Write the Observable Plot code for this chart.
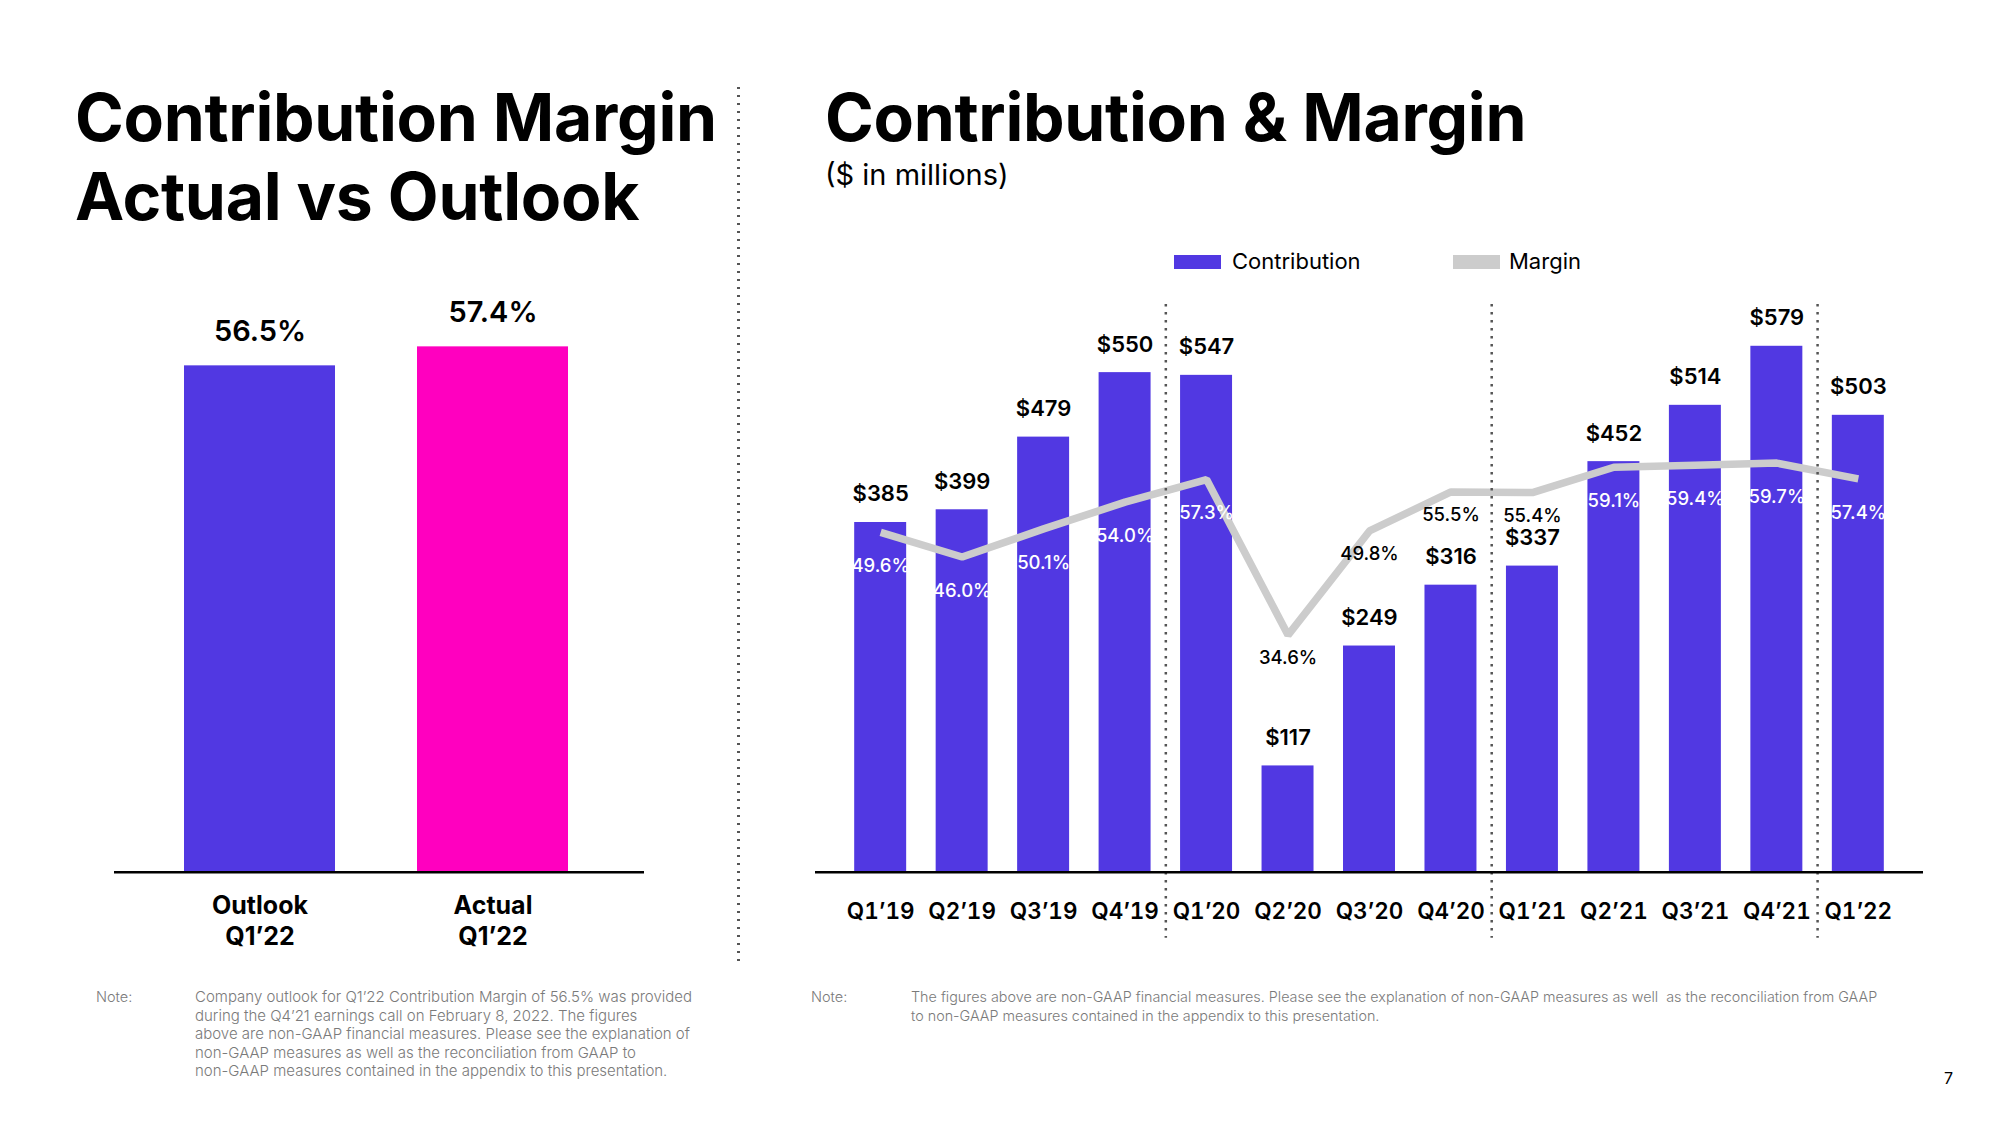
<!DOCTYPE html>
<html>
<head>
<meta charset="utf-8">
<script src="https://cdn.jsdelivr.net/npm/d3@7"></script>
<script src="https://cdn.jsdelivr.net/npm/@observablehq/plot@0.6"></script>
<style>
  html, body { margin: 0; padding: 0; background: #fff; }
  #page { position: relative; width: 2000px; height: 1125px; overflow: hidden; font-family: Inter, "Noto Sans", sans-serif; color: #000; }
  .abs { position: absolute; }
  .title { font-size: 66px; line-height: 79px; font-weight: 700; letter-spacing: -0.3px; white-space: nowrap; }
  .subtitle { font-size: 29px; line-height: 29px; font-weight: 400; white-space: nowrap; }
  .legend { font-size: 22px; line-height: 22px; white-space: nowrap; }
  .swatch { position: absolute; width: 47px; height: 14px; }
  .note { font-size: 14.5px; line-height: 18.6px; color: #7a7a7a; font-weight: 300; white-space: nowrap; }
  .divider { position: absolute; width: 3px; background-image: linear-gradient(to bottom, #555 0 2.5px, transparent 2.5px 8px); background-size: 3px 8px; }
</style>
</head>
<body>
<div id="page">
  <div class="abs title" style="left:75px; top:78px;">Contribution Margin<br>Actual vs Outlook</div>
  <div class="divider" style="left:737px; top:87px; height:876px;"></div>
  <div class="abs title" style="left:825px; top:78px;">Contribution &amp; Margin</div>
  <div class="abs subtitle" style="left:825px; top:160px;">($ in millions)</div>

  <div class="swatch" style="left:1174px; top:255px; background:#5138e2;"></div>
  <div class="abs legend" style="left:1232px; top:250px;">Contribution</div>
  <div class="swatch" style="left:1453px; top:255px; background:#cccccc;"></div>
  <div class="abs legend" style="left:1509px; top:250px;">Margin</div>

  <div id="left" class="abs" style="left:114px; top:290px; width:530px;"></div>
  <div id="right" class="abs" style="left:815px; top:290px; width:1108px;"></div>

  <div class="abs note" style="left:96px; top:988px;">Note:</div>
  <div class="abs note" style="left:195px; top:988px; font-size:15px;">Company outlook for Q1’22 Contribution Margin of 56.5% was provided<br>during the Q4’21 earnings call on February 8, 2022. The figures<br>above are non-GAAP financial measures. Please see the explanation of<br>non-GAAP measures as well as the reconciliation from GAAP to<br>non-GAAP measures contained in the appendix to this presentation.</div>
  <div class="abs note" style="left:811px; top:988px;">Note:</div>
  <div class="abs note" style="left:911px; top:988px; font-size:14.35px;">The figures above are non-GAAP financial measures. Please see the explanation of non-GAAP measures as well&nbsp; as the reconciliation from GAAP<br>to non-GAAP measures contained in the appendix to this presentation.</div>
  <div class="abs" style="left:1944px; top:1070px; font-size:16px; line-height:16px;">7</div>
</div>
<script>
// ---- Data ----
const quarters = ["Q1’19","Q2’19","Q3’19","Q4’19","Q1’20","Q2’20","Q3’20","Q4’20","Q1’21","Q2’21","Q3’21","Q4’21","Q1’22"];
const contribution = [385, 399, 479, 550, 547, 117, 249, 316, 337, 452, 514, 579, 503];
const marginPct = [49.6, 46.0, 50.1, 54.0, 57.3, 34.6, 49.8, 55.5, 55.4, 59.1, 59.4, 59.7, 57.4];

const outlookCategories = ["Outlook\nQ1’22", "Actual\nQ1’22"];
const outlookValues = [56.5, 57.4];

// ---- Styles / layout ----
const PURPLE = "#5138e2";
const PINK = "#ff00bf";
const GREY = "#cccccc";
const FONT = "Inter, 'Noto Sans', sans-serif";
const marginToDollar = 7.544;   // secondary-axis ratio: 1 % of margin drawn as 7.544 $M
const leftYMin = 32.5;          // truncated axis of the left chart

// ---- Left chart: Actual vs Outlook ----
const leftData = outlookCategories.map((c, i) => ({cat: c, value: outlookValues[i]}));
const left = Plot.plot({
  width: 530, height: 670,
  marginLeft: 0, marginRight: 0, marginTop: 1.5, marginBottom: 88.3,
  style: {background: "transparent", overflow: "visible", fontFamily: FONT, color: "#000"},
  x: {domain: outlookCategories, paddingInner: 0.353, paddingOuter: 0.31, align: 0.48},
  y: {domain: [leftYMin, 60], axis: null},
  color: {domain: outlookCategories, range: [PURPLE, PINK]},
  marks: [
    Plot.barY(leftData, {x: "cat", y1: leftYMin, y2: "value", fill: "cat"}),
    Plot.text(leftData, {x: "cat", y: "value", text: d => d.value.toFixed(1) + "%", dy: -25, lineAnchor: "bottom", fontSize: 29, fontWeight: 600, fill: "#000"}),
    Plot.ruleY([leftYMin], {stroke: "#000", strokeWidth: 2.5}),
    Plot.axisX({tickSize: 0, tickPadding: 20, fontSize: 25, fontWeight: 650, lineHeight: 1.23, label: null})
  ]
});
document.getElementById("left").appendChild(left);

// ---- Right chart: Contribution & Margin ----
const data = quarters.map((q, i) => ({i, q, value: contribution[i], margin: marginPct[i]}));
const separators = data.filter(d => d.i > 0 && d.q.startsWith("Q1")).map(d => d.i - 0.5);
const labelInside = d => d.margin * marginToDollar - 37 < d.value;

const right = Plot.plot({
  width: 1108, height: 670,
  marginLeft: 0, marginRight: 0, marginTop: 14, marginBottom: 88.3,
  style: {background: "transparent", overflow: "visible", fontFamily: FONT, color: "#000"},
  x: {type: "linear", domain: [-0.8, 12.8]},
  y: {domain: [0, 625], axis: null},
  marks: [
    Plot.rect(data, {x1: d => d.i - 0.319, x2: d => d.i + 0.319, y1: 0, y2: "value", fill: PURPLE}),
    Plot.line(data, {x: "i", y: d => d.margin * marginToDollar, stroke: GREY, strokeWidth: 7.5, strokeLinejoin: "miter", strokeLinecap: "butt"}),
    Plot.text(data, {x: "i", y: "value", text: d => "$" + d.value, dy: -21, lineAnchor: "bottom", fontSize: 22, fontWeight: 600, fill: "#000"}),
    Plot.text(data.filter(labelInside), {x: "i", y: d => d.margin * marginToDollar, text: d => d.margin.toFixed(1) + "%", dy: 34, fontSize: 18.5, fontWeight: 500, fill: "#fff"}),
    Plot.text(data.filter(d => !labelInside(d)), {x: "i", y: d => d.margin * marginToDollar, text: d => d.margin.toFixed(1) + "%", dy: 23, fontSize: 18.5, fontWeight: 500, fill: "#000"}),
    Plot.ruleX(separators, {stroke: "#555", strokeWidth: 2.5, strokeDasharray: "2.5,5.5", insetBottom: -66}),
    Plot.ruleY([0], {stroke: "#000", strokeWidth: 2.5}),
    Plot.axisX(d3.range(quarters.length), {tickFormat: i => quarters[i], tickSize: 0, tickPadding: 31, fontSize: 22.5, fontWeight: 600, label: null})
  ]
});
document.getElementById("right").appendChild(right);
</script>
</body>
</html>
